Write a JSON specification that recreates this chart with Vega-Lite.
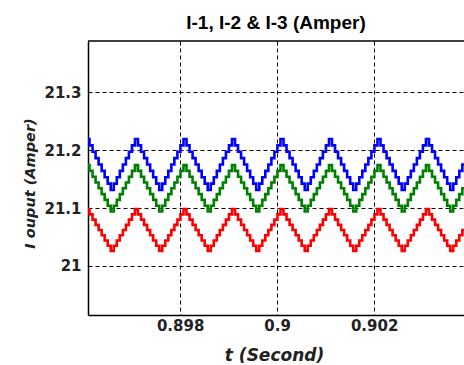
{
  "$schema": "https://vega.github.io/schema/vega-lite/v6.json",
  "width": 376,
  "height": 274,
  "autosize": {"type": "none"},
  "padding": {"left": 88, "top": 41, "right": 0, "bottom": 50},
  "background": "white",
  "title": {"text": "I-1, I-2 & I-3 (Amper)", "font": "Liberation Sans", "fontSize": 19, "fontWeight": "bold", "color": "black", "anchor": "middle", "baseline": "alphabetic", "offset": 14, "dy": 22},
  "config": {"view": {"stroke": null}},
  "layer": [
    {
      "data": {"values": [
        {"t":0.8961,"b":21.219,"g":21.174,"r":21.098},
        {"t":0.8961625,"b":21.208,"g":21.164,"r":21.089},
        {"t":0.896225,"b":21.197,"g":21.154,"r":21.08},
        {"t":0.8962875,"b":21.186,"g":21.144,"r":21.071},
        {"t":0.89635,"b":21.175,"g":21.134,"r":21.062},
        {"t":0.8964125,"b":21.164,"g":21.124,"r":21.053},
        {"t":0.896475,"b":21.153,"g":21.114,"r":21.044},
        {"t":0.8965375,"b":21.142,"g":21.104,"r":21.035},
        {"t":0.8966,"b":21.131,"g":21.094,"r":21.026},
        {"t":0.8966625,"b":21.142,"g":21.104,"r":21.035},
        {"t":0.896725,"b":21.153,"g":21.114,"r":21.044},
        {"t":0.8967875,"b":21.164,"g":21.124,"r":21.053},
        {"t":0.89685,"b":21.175,"g":21.134,"r":21.062},
        {"t":0.8969125,"b":21.186,"g":21.144,"r":21.071},
        {"t":0.896975,"b":21.197,"g":21.154,"r":21.08},
        {"t":0.8970375,"b":21.208,"g":21.164,"r":21.089},
        {"t":0.8971,"b":21.219,"g":21.174,"r":21.098},
        {"t":0.8971625,"b":21.208,"g":21.164,"r":21.089},
        {"t":0.897225,"b":21.197,"g":21.154,"r":21.08},
        {"t":0.8972875,"b":21.186,"g":21.144,"r":21.071},
        {"t":0.89735,"b":21.175,"g":21.134,"r":21.062},
        {"t":0.8974125,"b":21.164,"g":21.124,"r":21.053},
        {"t":0.897475,"b":21.153,"g":21.114,"r":21.044},
        {"t":0.8975375,"b":21.142,"g":21.104,"r":21.035},
        {"t":0.8976,"b":21.131,"g":21.094,"r":21.026},
        {"t":0.8976625,"b":21.142,"g":21.104,"r":21.035},
        {"t":0.897725,"b":21.153,"g":21.114,"r":21.044},
        {"t":0.8977875,"b":21.164,"g":21.124,"r":21.053},
        {"t":0.89785,"b":21.175,"g":21.134,"r":21.062},
        {"t":0.8979125,"b":21.186,"g":21.144,"r":21.071},
        {"t":0.897975,"b":21.197,"g":21.154,"r":21.08},
        {"t":0.8980375,"b":21.208,"g":21.164,"r":21.089},
        {"t":0.8981,"b":21.219,"g":21.174,"r":21.098},
        {"t":0.8981625,"b":21.208,"g":21.164,"r":21.089},
        {"t":0.898225,"b":21.197,"g":21.154,"r":21.08},
        {"t":0.8982875,"b":21.186,"g":21.144,"r":21.071},
        {"t":0.89835,"b":21.175,"g":21.134,"r":21.062},
        {"t":0.8984125,"b":21.164,"g":21.124,"r":21.053},
        {"t":0.898475,"b":21.153,"g":21.114,"r":21.044},
        {"t":0.8985375,"b":21.142,"g":21.104,"r":21.035},
        {"t":0.8986,"b":21.131,"g":21.094,"r":21.026},
        {"t":0.8986625,"b":21.142,"g":21.104,"r":21.035},
        {"t":0.898725,"b":21.153,"g":21.114,"r":21.044},
        {"t":0.8987875,"b":21.164,"g":21.124,"r":21.053},
        {"t":0.89885,"b":21.175,"g":21.134,"r":21.062},
        {"t":0.8989125,"b":21.186,"g":21.144,"r":21.071},
        {"t":0.898975,"b":21.197,"g":21.154,"r":21.08},
        {"t":0.8990375,"b":21.208,"g":21.164,"r":21.089},
        {"t":0.8991,"b":21.219,"g":21.174,"r":21.098},
        {"t":0.8991625,"b":21.208,"g":21.164,"r":21.089},
        {"t":0.899225,"b":21.197,"g":21.154,"r":21.08},
        {"t":0.8992875,"b":21.186,"g":21.144,"r":21.071},
        {"t":0.89935,"b":21.175,"g":21.134,"r":21.062},
        {"t":0.8994125,"b":21.164,"g":21.124,"r":21.053},
        {"t":0.899475,"b":21.153,"g":21.114,"r":21.044},
        {"t":0.8995375,"b":21.142,"g":21.104,"r":21.035},
        {"t":0.8996,"b":21.131,"g":21.094,"r":21.026},
        {"t":0.8996625,"b":21.142,"g":21.104,"r":21.035},
        {"t":0.899725,"b":21.153,"g":21.114,"r":21.044},
        {"t":0.8997875,"b":21.164,"g":21.124,"r":21.053},
        {"t":0.89985,"b":21.175,"g":21.134,"r":21.062},
        {"t":0.8999125,"b":21.186,"g":21.144,"r":21.071},
        {"t":0.899975,"b":21.197,"g":21.154,"r":21.08},
        {"t":0.9000375,"b":21.208,"g":21.164,"r":21.089},
        {"t":0.9001,"b":21.219,"g":21.174,"r":21.098},
        {"t":0.9001625,"b":21.208,"g":21.164,"r":21.089},
        {"t":0.900225,"b":21.197,"g":21.154,"r":21.08},
        {"t":0.9002875,"b":21.186,"g":21.144,"r":21.071},
        {"t":0.90035,"b":21.175,"g":21.134,"r":21.062},
        {"t":0.9004125,"b":21.164,"g":21.124,"r":21.053},
        {"t":0.900475,"b":21.153,"g":21.114,"r":21.044},
        {"t":0.9005375,"b":21.142,"g":21.104,"r":21.035},
        {"t":0.9006,"b":21.131,"g":21.094,"r":21.026},
        {"t":0.9006625,"b":21.142,"g":21.104,"r":21.035},
        {"t":0.900725,"b":21.153,"g":21.114,"r":21.044},
        {"t":0.9007875,"b":21.164,"g":21.124,"r":21.053},
        {"t":0.90085,"b":21.175,"g":21.134,"r":21.062},
        {"t":0.9009125,"b":21.186,"g":21.144,"r":21.071},
        {"t":0.900975,"b":21.197,"g":21.154,"r":21.08},
        {"t":0.9010375,"b":21.208,"g":21.164,"r":21.089},
        {"t":0.9011,"b":21.219,"g":21.174,"r":21.098},
        {"t":0.9011625,"b":21.208,"g":21.164,"r":21.089},
        {"t":0.901225,"b":21.197,"g":21.154,"r":21.08},
        {"t":0.9012875,"b":21.186,"g":21.144,"r":21.071},
        {"t":0.90135,"b":21.175,"g":21.134,"r":21.062},
        {"t":0.9014125,"b":21.164,"g":21.124,"r":21.053},
        {"t":0.901475,"b":21.153,"g":21.114,"r":21.044},
        {"t":0.9015375,"b":21.142,"g":21.104,"r":21.035},
        {"t":0.9016,"b":21.131,"g":21.094,"r":21.026},
        {"t":0.9016625,"b":21.142,"g":21.104,"r":21.035},
        {"t":0.901725,"b":21.153,"g":21.114,"r":21.044},
        {"t":0.9017875,"b":21.164,"g":21.124,"r":21.053},
        {"t":0.90185,"b":21.175,"g":21.134,"r":21.062},
        {"t":0.9019125,"b":21.186,"g":21.144,"r":21.071},
        {"t":0.901975,"b":21.197,"g":21.154,"r":21.08},
        {"t":0.9020375,"b":21.208,"g":21.164,"r":21.089},
        {"t":0.9021,"b":21.219,"g":21.174,"r":21.098},
        {"t":0.9021625,"b":21.208,"g":21.164,"r":21.089},
        {"t":0.902225,"b":21.197,"g":21.154,"r":21.08},
        {"t":0.9022875,"b":21.186,"g":21.144,"r":21.071},
        {"t":0.90235,"b":21.175,"g":21.134,"r":21.062},
        {"t":0.9024125,"b":21.164,"g":21.124,"r":21.053},
        {"t":0.902475,"b":21.153,"g":21.114,"r":21.044},
        {"t":0.9025375,"b":21.142,"g":21.104,"r":21.035},
        {"t":0.9026,"b":21.131,"g":21.094,"r":21.026},
        {"t":0.9026625,"b":21.142,"g":21.104,"r":21.035},
        {"t":0.902725,"b":21.153,"g":21.114,"r":21.044},
        {"t":0.9027875,"b":21.164,"g":21.124,"r":21.053},
        {"t":0.90285,"b":21.175,"g":21.134,"r":21.062},
        {"t":0.9029125,"b":21.186,"g":21.144,"r":21.071},
        {"t":0.902975,"b":21.197,"g":21.154,"r":21.08},
        {"t":0.9030375,"b":21.208,"g":21.164,"r":21.089},
        {"t":0.9031,"b":21.219,"g":21.174,"r":21.098},
        {"t":0.9031625,"b":21.208,"g":21.164,"r":21.089},
        {"t":0.903225,"b":21.197,"g":21.154,"r":21.08},
        {"t":0.9032875,"b":21.186,"g":21.144,"r":21.071},
        {"t":0.90335,"b":21.175,"g":21.134,"r":21.062},
        {"t":0.9034125,"b":21.164,"g":21.124,"r":21.053},
        {"t":0.903475,"b":21.153,"g":21.114,"r":21.044},
        {"t":0.9035375,"b":21.142,"g":21.104,"r":21.035},
        {"t":0.9036,"b":21.131,"g":21.094,"r":21.026},
        {"t":0.9036625,"b":21.142,"g":21.104,"r":21.035},
        {"t":0.903725,"b":21.153,"g":21.114,"r":21.044},
        {"t":0.9037875,"b":21.164,"g":21.124,"r":21.053},
        {"t":0.90385,"b":21.175,"g":21.134,"r":21.062},
        {"t":0.9039125,"b":21.186,"g":21.144,"r":21.071},
        {"t":0.903975,"b":21.197,"g":21.154,"r":21.08},
        {"t":0.9040375,"b":21.208,"g":21.164,"r":21.089},
        {"t":0.9041,"b":21.219,"g":21.174,"r":21.098}
      ]},
      "transform": [{"fold": ["b", "g", "r"], "as": ["s", "v"]}],
      "mark": {"type": "line", "interpolate": "step", "strokeWidth": 2.6, "clip": true},
      "encoding": {
        "x": {
          "field": "t", "type": "quantitative",
          "scale": {"domain": [0.8961, 0.903853], "nice": false, "zero": false},
          "axis": {
            "values": [0.898, 0.9, 0.902], "format": "~g",
            "grid": true, "gridColor": "black", "gridOpacity": 1, "gridWidth": 1, "gridDash": [4, 3],
            "domainColor": "black", "domainWidth": 1.5, "ticks": false,
            "labelFont": "DejaVu Sans", "labelFontSize": 15, "labelFontWeight": "bold", "labelColor": "#222222", "labelPadding": 3,
            "title": "t (Second)", "titleFont": "DejaVu Sans", "titleFontSize": 17, "titleFontStyle": "italic", "titleFontWeight": "bold",
            "titleColor": "#222222", "titleBaseline": "alphabetic", "titleY": 45, "titleX": 186, "titleAlign": "center"
          }
        },
        "y": {
          "field": "v", "type": "quantitative",
          "scale": {"domain": [20.9155, 21.388], "nice": false, "zero": false},
          "axis": {
            "values": [21, 21.1, 21.2, 21.3], "format": "~g",
            "grid": true, "gridColor": "black", "gridOpacity": 1, "gridWidth": 1, "gridDash": [4, 3],
            "domainColor": "black", "domainWidth": 1.5, "ticks": false,
            "labelFont": "DejaVu Sans", "labelFontSize": 15, "labelFontWeight": "bold", "labelColor": "#222222", "labelPadding": 7,
            "title": "I ouput (Amper)", "titleFont": "DejaVu Sans", "titleFontSize": 14.5, "titleFontStyle": "italic", "titleFontWeight": "bold",
            "titleColor": "#222222", "titleBaseline": "alphabetic", "titleX": -54, "titleY": 142, "titleAlign": "center", "titleAngle": -90
          }
        },
        "color": {
          "field": "s", "type": "nominal",
          "scale": {"domain": ["b", "g", "r"], "range": ["#0000FF", "#008000", "#FF0000"]},
          "legend": null
        }
      }
    },
    {
      "data": {"values": [{"top": 21.388}]},
      "mark": {"type": "rule", "color": "black", "strokeWidth": 1.5},
      "encoding": {"y": {"field": "top", "type": "quantitative"}}
    }
  ]
}
